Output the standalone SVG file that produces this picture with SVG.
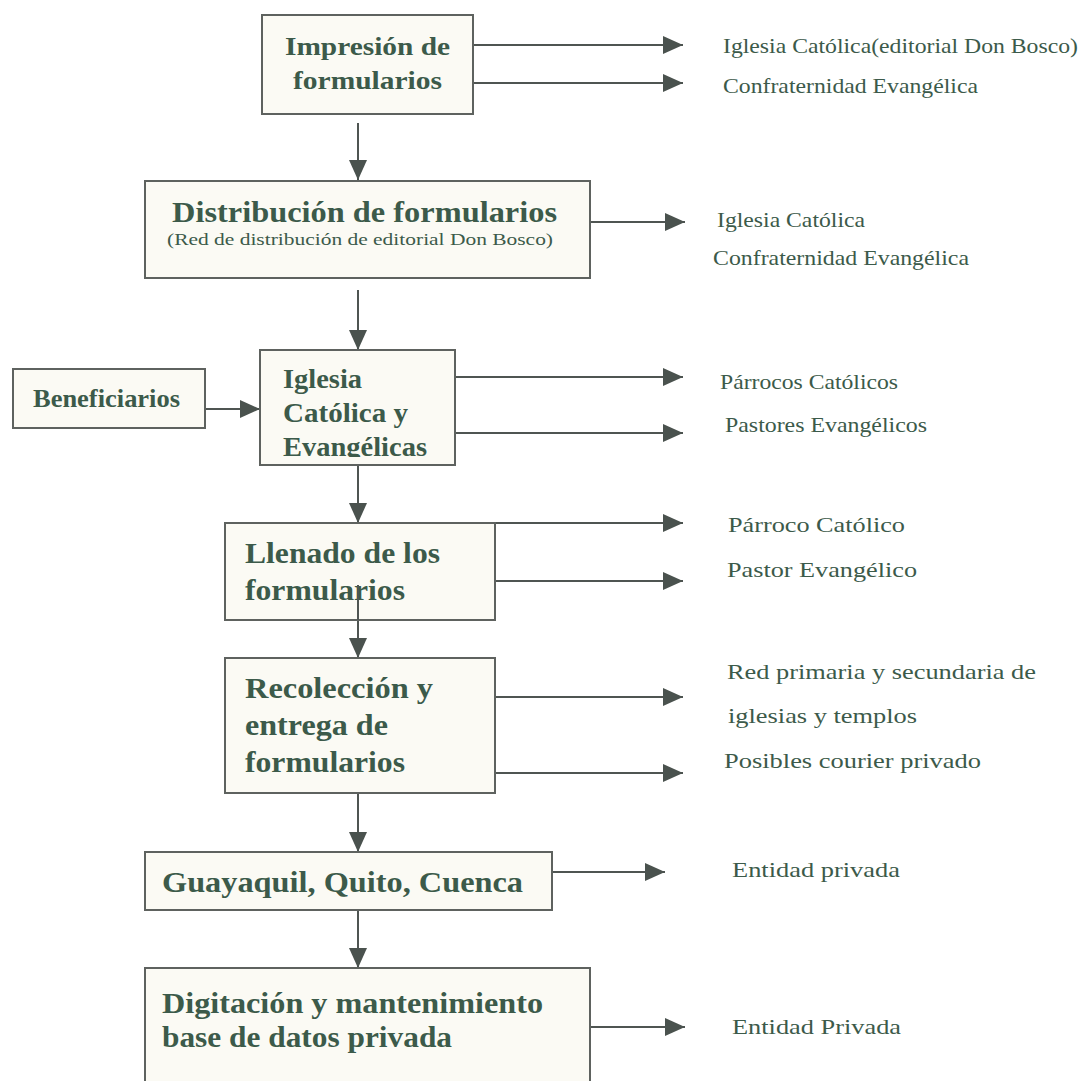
<svg xmlns="http://www.w3.org/2000/svg" width="1087" height="1081" viewBox="0 0 1087 1081">
<style>
.box{fill:#fbfaf4;stroke:#5e625f;stroke-width:2}
.bt{font-family:"Liberation Serif","Times New Roman",serif;font-weight:bold;fill:#3c5a4a}
.lt{font-family:"Liberation Serif","Times New Roman",serif;fill:#3c5a4a;font-size:21px}
.cn{stroke:#4f5552;stroke-width:2;fill:none}
</style>
<defs>
<marker id="ah" markerUnits="userSpaceOnUse" markerWidth="22" markerHeight="20" refX="20" refY="9" orient="auto">
<path d="M0,0 L20,9 L0,18 z" fill="#4a524e"/>
</marker>
<clipPath id="c3"><rect x="260" y="350" width="195" height="107"/></clipPath>
</defs>
<rect width="1087" height="1081" fill="#ffffff"/>

<g id="connectors">
<line class="cn" x1="473" y1="45" x2="683" y2="45" marker-end="url(#ah)"/>
<line class="cn" x1="473" y1="83" x2="683" y2="83" marker-end="url(#ah)"/>
<line class="cn" x1="358" y1="123" x2="358" y2="180" marker-end="url(#ah)"/>
<line class="cn" x1="590" y1="222" x2="685" y2="222" marker-end="url(#ah)"/>
<line class="cn" x1="358" y1="290" x2="358" y2="350" marker-end="url(#ah)"/>
<line class="cn" x1="205" y1="409" x2="260" y2="409" marker-end="url(#ah)"/>
<line class="cn" x1="455" y1="377" x2="683" y2="377" marker-end="url(#ah)"/>
<line class="cn" x1="455" y1="433" x2="683" y2="433" marker-end="url(#ah)"/>
<line class="cn" x1="358" y1="465" x2="358" y2="523" marker-end="url(#ah)"/>
<line class="cn" x1="495" y1="523" x2="683" y2="523" marker-end="url(#ah)"/>
<line class="cn" x1="495" y1="581" x2="683" y2="581" marker-end="url(#ah)"/>
<line class="cn" x1="358" y1="620" x2="358" y2="658" marker-end="url(#ah)"/>
<line class="cn" x1="495" y1="697" x2="683" y2="697" marker-end="url(#ah)"/>
<line class="cn" x1="495" y1="773" x2="683" y2="773" marker-end="url(#ah)"/>
<line class="cn" x1="358" y1="793" x2="358" y2="852" marker-end="url(#ah)"/>
<line class="cn" x1="552" y1="872" x2="665" y2="872" marker-end="url(#ah)"/>
<line class="cn" x1="358" y1="910" x2="358" y2="968" marker-end="url(#ah)"/>
<line class="cn" x1="590" y1="1027" x2="685" y2="1027" marker-end="url(#ah)"/>
</g>

<g id="n1">
<rect class="box" x="262" y="15" width="211" height="99"/>
<text class="bt" font-size="26" x="285" y="55" textLength="165" lengthAdjust="spacingAndGlyphs">Impresión de</text>
<text class="bt" font-size="26" x="293" y="89" textLength="149" lengthAdjust="spacingAndGlyphs">formularios</text>
</g>

<g id="n2">
<rect class="box" x="145" y="181" width="445" height="97"/>
<text class="bt" font-size="29" x="172" y="222" textLength="385" lengthAdjust="spacingAndGlyphs">Distribución de formularios</text>
<text class="lt" x="167" y="245" textLength="386" lengthAdjust="spacingAndGlyphs" style="font-size:16px">(Red de distribución de editorial Don Bosco)</text>
</g>

<g id="n3">
<rect class="box" x="13" y="369" width="192" height="59"/>
<text class="bt" font-size="25" x="33" y="407" textLength="147" lengthAdjust="spacingAndGlyphs">Beneficiarios</text>
</g>

<g id="n4">
<rect class="box" x="260" y="350" width="195" height="115"/>
<g clip-path="url(#c3)">
<text class="bt" font-size="28" x="283" y="388" textLength="79" lengthAdjust="spacingAndGlyphs">Iglesia</text>
<text class="bt" font-size="28" x="283" y="422" textLength="125" lengthAdjust="spacingAndGlyphs">Católica y</text>
<text class="bt" font-size="28" x="283" y="456" textLength="144" lengthAdjust="spacingAndGlyphs">Evangélicas</text>
</g>
</g>

<g id="n5">
<rect class="box" x="225" y="523" width="270" height="97"/>
<text class="bt" font-size="29" x="245" y="563" textLength="195" lengthAdjust="spacingAndGlyphs">Llenado de los</text>
<text class="bt" font-size="29" x="245" y="600" textLength="160" lengthAdjust="spacingAndGlyphs">formularios</text>
<line class="cn" x1="358" y1="585" x2="358" y2="620"/>
</g>

<g id="n6">
<rect class="box" x="225" y="658" width="270" height="135"/>
<text class="bt" font-size="29" x="245" y="698" textLength="188" lengthAdjust="spacingAndGlyphs">Recolección y</text>
<text class="bt" font-size="29" x="245" y="735" textLength="143" lengthAdjust="spacingAndGlyphs">entrega de</text>
<text class="bt" font-size="29" x="245" y="772" textLength="160" lengthAdjust="spacingAndGlyphs">formularios</text>
</g>

<g id="n7">
<rect class="box" x="145" y="852" width="407" height="58"/>
<text class="bt" font-size="29" x="162" y="892" textLength="361" lengthAdjust="spacingAndGlyphs">Guayaquil, Quito, Cuenca</text>
</g>

<g id="n8">
<rect class="box" x="145" y="968" width="445" height="130"/>
<text class="bt" font-size="29" x="162" y="1013" textLength="381" lengthAdjust="spacingAndGlyphs">Digitación y mantenimiento</text>
<text class="bt" font-size="29" x="162" y="1047" textLength="290" lengthAdjust="spacingAndGlyphs">base de datos privada</text>
</g>

<g id="labels">
<text class="lt" x="723" y="53" textLength="355" lengthAdjust="spacingAndGlyphs">Iglesia Católica(editorial Don Bosco)</text>
<text class="lt" x="723" y="93" textLength="255" lengthAdjust="spacingAndGlyphs">Confraternidad Evangélica</text>
<text class="lt" x="717" y="227" textLength="148" lengthAdjust="spacingAndGlyphs">Iglesia Católica</text>
<text class="lt" x="713" y="265" textLength="256" lengthAdjust="spacingAndGlyphs">Confraternidad Evangélica</text>
<text class="lt" x="720" y="389" textLength="178" lengthAdjust="spacingAndGlyphs">Párrocos Católicos</text>
<text class="lt" x="725" y="432" textLength="202" lengthAdjust="spacingAndGlyphs">Pastores Evangélicos</text>
<text class="lt" x="728" y="532" textLength="177" lengthAdjust="spacingAndGlyphs">Párroco Católico</text>
<text class="lt" x="727" y="577" textLength="190" lengthAdjust="spacingAndGlyphs">Pastor Evangélico</text>
<text class="lt" x="727" y="679" textLength="309" lengthAdjust="spacingAndGlyphs">Red primaria y secundaria de</text>
<text class="lt" x="728" y="723" textLength="189" lengthAdjust="spacingAndGlyphs">iglesias y templos</text>
<text class="lt" x="724" y="768" textLength="257" lengthAdjust="spacingAndGlyphs">Posibles courier privado</text>
<text class="lt" x="732" y="877" textLength="168" lengthAdjust="spacingAndGlyphs">Entidad privada</text>
<text class="lt" x="732" y="1034" textLength="169" lengthAdjust="spacingAndGlyphs">Entidad Privada</text>
</g>
</svg>
